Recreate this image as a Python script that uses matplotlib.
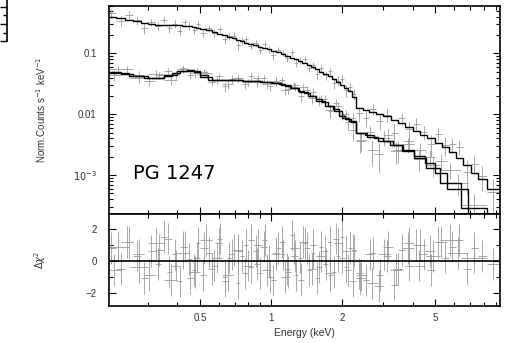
#!/usr/bin/env python3
"""Unfolded X-ray spectrum of PG 1247 with chi residuals (XSPEC-style plot)."""

import matplotlib
matplotlib.use("Agg")
import matplotlib.pyplot as plt
from matplotlib.ticker import FixedLocator, FuncFormatter, MultipleLocator, NullFormatter
import numpy as np

# --- upper spectrum (brighter instrument) -----------------------------------
up_edges = [0.20, 0.22, 0.24, 0.26, 0.28, 0.30, 0.32, 0.34, 0.36, 0.38, 0.40,
            0.42, 0.44, 0.46, 0.48, 0.50, 0.53, 0.56, 0.59, 0.62, 0.65, 0.68,
            0.71, 0.74, 0.77, 0.80, 0.84, 0.88, 0.92, 0.96, 1.00, 1.05, 1.10,
            1.15, 1.20, 1.25, 1.30, 1.36, 1.42, 1.48, 1.54, 1.60, 1.67, 1.74,
            1.81, 1.88, 1.96, 2.04, 2.12, 2.20, 2.30, 2.45, 2.62, 2.80, 3.00,
            3.22, 3.46, 3.72, 4.00, 4.30, 4.62, 4.96, 5.32, 5.70, 6.10, 6.55,
            7.05, 7.60, 8.25, 9.40]
up_model = [0.40, 0.38, 0.36, 0.335, 0.315, 0.30, 0.295, 0.293, 0.292, 0.292,
            0.29, 0.285, 0.278, 0.27, 0.262, 0.252, 0.24, 0.225, 0.21, 0.198,
            0.187, 0.178, 0.168, 0.158, 0.150, 0.142, 0.135, 0.128, 0.122, 0.117,
            0.111, 0.104, 0.097, 0.091, 0.085, 0.080, 0.074, 0.069, 0.064, 0.059,
            0.055, 0.050, 0.046, 0.042, 0.038, 0.034, 0.030, 0.027, 0.024, 0.019,
            0.0125, 0.0118, 0.0110, 0.0100, 0.0092, 0.0082, 0.0072, 0.0062, 0.0054, 0.0046,
            0.0040, 0.0034, 0.0029, 0.0024, 0.0019, 0.00145, 0.0011, 0.00085, 0.0006]
up_relerr = [0.20, 0.18, 0.17, 0.16, 0.16, 0.15, 0.15, 0.15, 0.15, 0.15,
             0.15, 0.15, 0.15, 0.15, 0.15, 0.14, 0.14, 0.14, 0.14, 0.14,
             0.14, 0.14, 0.14, 0.14, 0.14, 0.13, 0.13, 0.13, 0.13, 0.13,
             0.13, 0.13, 0.13, 0.13, 0.14, 0.14, 0.14, 0.15, 0.15, 0.15,
             0.16, 0.16, 0.17, 0.17, 0.18, 0.18, 0.19, 0.20, 0.21, 0.22,
             0.22, 0.22, 0.23, 0.24, 0.25, 0.26, 0.27, 0.28, 0.29, 0.30,
             0.32, 0.34, 0.36, 0.38, 0.40, 0.44, 0.48, 0.52, 0.55]
up_resid = [0.8, -0.5, 1.2, 0.3, -1.1, 0.6, -0.2, 1.5, -0.7, 0.4,
            -1.3, 0.9, 0.1, -0.6, 1.1, -0.9, 0.5, -0.3, 1.4, -1.0,
            0.2, 0.7, -1.4, 0.3, 1.0, -0.4, 0.6, -0.8, 1.3, 0.0,
            -1.2, 0.8, 0.4, -0.5, 1.6, -0.9, 0.2, 1.1, -0.6, 0.5,
            -1.1, 0.9, -0.2, 1.2, -0.7, 0.3, 1.5, -0.4, 0.8, 0.6,
            -0.8, -1.2, 0.5, -0.9, 0.3, -1.5, 0.7, -0.3, 1.0, 0.4,
            -0.6, 1.2, 0.2, 0.9, 1.3, -0.5, 0.8, 0.3, -0.2]

# --- lower spectra (two fainter instruments) --------------------------------
lo1_edges = [0.20, 0.23, 0.26, 0.29, 0.32, 0.35, 0.38, 0.41, 0.44, 0.47, 0.50,
             0.54, 0.58, 0.62, 0.66, 0.70, 0.75, 0.80, 0.85, 0.90, 0.96, 1.02,
             1.08, 1.15, 1.22, 1.30, 1.38, 1.46, 1.55, 1.64, 1.74, 1.84, 1.95,
             2.06, 2.18, 2.30, 2.50, 2.75, 3.00, 3.30, 3.65, 4.05, 4.50, 5.00,
             5.60, 6.90]
lo1_model = [0.049, 0.046, 0.042, 0.040, 0.040, 0.043, 0.047, 0.051, 0.053, 0.050,
             0.044, 0.037, 0.036, 0.036, 0.036, 0.036, 0.0355, 0.035, 0.0348, 0.0345,
             0.034, 0.0328, 0.031, 0.029, 0.027, 0.0245, 0.022, 0.020, 0.018, 0.0158,
             0.0138, 0.012, 0.0095, 0.0085, 0.0075, 0.0050, 0.0046, 0.0040, 0.0036, 0.0031,
             0.0026, 0.0021, 0.0016, 0.0011, 0.0006]
lo1_relerr = [0.18, 0.16, 0.15, 0.15, 0.15, 0.15, 0.14, 0.14, 0.14, 0.14,
              0.14, 0.15, 0.15, 0.15, 0.15, 0.15, 0.15, 0.15, 0.15, 0.15,
              0.15, 0.15, 0.15, 0.15, 0.16, 0.16, 0.17, 0.17, 0.18, 0.18,
              0.19, 0.20, 0.21, 0.22, 0.23, 0.26, 0.27, 0.28, 0.30, 0.32,
              0.34, 0.36, 0.40, 0.45, 0.50]
lo1_resid = [-0.6, 1.2, 0.4, -0.9, 0.7, 1.4, -0.3, 0.9, -1.1, 0.2,
             0.8, -0.5, 1.1, -1.3, 0.4, 0.6, -0.8, 1.3, -0.2, 0.9,
             -1.0, 0.5, 1.2, -0.7, 0.3, -1.2, 0.8, 1.0, -0.4, 0.6,
             -0.9, 1.4, 0.2, -0.6, 0.7, -1.1, 0.4, -1.6, 0.9, -0.5,
             1.1, -0.3, 0.6, 1.2, 0.5]

lo2_edges = [0.20, 0.25, 0.30, 0.35, 0.40, 0.45, 0.50, 0.56, 0.62, 0.69, 0.76,
             0.84, 0.92, 1.00, 1.10, 1.20, 1.31, 1.43, 1.56, 1.70, 1.85, 2.00,
             2.15, 2.30, 2.55, 2.85, 3.20, 3.60, 4.05, 4.55, 5.20, 6.40, 8.30]
lo2_model = [0.048, 0.042, 0.040, 0.044, 0.051, 0.052, 0.041, 0.036, 0.036, 0.036,
             0.0352, 0.0347, 0.034, 0.0325, 0.030, 0.0268, 0.0235, 0.020, 0.0168, 0.0138,
             0.0112, 0.0088, 0.0078, 0.0049, 0.0043, 0.0037, 0.0031, 0.0025, 0.0019, 0.0013,
             0.00075, 0.00029]
lo2_relerr = [0.16, 0.15, 0.15, 0.14, 0.14, 0.14, 0.14, 0.14, 0.14, 0.14,
              0.14, 0.14, 0.15, 0.15, 0.15, 0.16, 0.16, 0.17, 0.18, 0.19,
              0.20, 0.22, 0.23, 0.26, 0.28, 0.30, 0.32, 0.35, 0.38, 0.42,
              0.48, 0.60]
lo2_resid = [0.9, -0.4, 1.1, -1.2, 0.5, -0.7, 1.3, 0.2, -0.9, 0.7,
             -0.3, 1.0, -0.6, 0.4, -1.0, 0.8, 1.2, -0.5, 0.3, -0.8,
             1.1, 0.6, -1.3, -0.9, -1.4, 0.4, -0.6, 0.8, 1.0, 0.3,
             1.3, 0.2]

SPECTRA = [
    (up_edges, up_model, up_relerr, up_resid),
    (lo1_edges, lo1_model, lo1_relerr, lo1_resid),
    (lo2_edges, lo2_model, lo2_relerr, lo2_resid),
]

DATA_GREY = "#9a9a9a"
LABEL_GREY = "#333333"
XMIN, XMAX = 0.205, 9.4


def bins(edges):
    edges = np.asarray(edges)
    centre = np.sqrt(edges[:-1] * edges[1:])
    return edges, centre, [centre - edges[:-1], edges[1:] - centre]


def style_axes(ax):
    for side in ax.spines.values():
        side.set_linewidth(1.2)
    ax.tick_params(which="both", direction="in", top=True, right=True, width=0.8,
                   labelsize=7, pad=9, labelcolor=LABEL_GREY)
    ax.tick_params(which="major", length=5)
    ax.tick_params(which="minor", length=3)
    ax.set_xscale("log")
    ax.set_xlim(XMIN, XMAX)
    ax.xaxis.set_major_locator(FixedLocator([0.5, 1, 2, 5]))
    ax.xaxis.set_minor_locator(FixedLocator([0.3, 0.4, 0.6, 0.7, 0.8, 0.9, 3, 4, 6, 7, 8, 9]))
    ax.xaxis.set_minor_formatter(NullFormatter())


def ytick_label(v, _pos):
    if v >= 0.01:
        return f"{v:g}"
    return rf"$10^{{{int(round(np.log10(v)))}}}$"


def main():
    plt.rcParams["font.family"] = ["Liberation Sans", "DejaVu Sans"]
    fig = plt.figure(figsize=(5.12, 3.43), dpi=100)
    ax = fig.add_axes([0.2129, 0.3761, 0.7637, 0.6064])
    axr = fig.add_axes([0.2129, 0.1079, 0.7637, 0.2682], sharex=ax)

    for edges, model, relerr, resid in SPECTRA:
        edges, centre, xerr = bins(edges)
        model = np.asarray(model)
        sigma = model * np.asarray(relerr)
        rate = model + np.asarray(resid) * sigma
        ax.errorbar(centre, rate, xerr=xerr, yerr=sigma, fmt="none",
                    ecolor=DATA_GREY, elinewidth=0.6, zorder=2)
        ax.stairs(model, edges, color="black", lw=1.0, zorder=3)
        axr.errorbar(centre, resid, xerr=xerr, yerr=1.0, fmt="none",
                     ecolor=DATA_GREY, elinewidth=0.6, zorder=2)

    style_axes(ax)
    ax.set_yscale("log")
    ax.set_ylim(2.3e-4, 0.6)
    ax.yaxis.set_major_formatter(FuncFormatter(ytick_label))
    ax.yaxis.set_minor_formatter(NullFormatter())
    ax.tick_params(axis="x", labelbottom=False)
    ax.set_ylabel(r"Norm.Counts s$^{-1}$ keV$^{-1}$", fontsize=7, color=LABEL_GREY)
    ax.yaxis.set_label_coords(-0.155, 0.5)
    ax.text(0.062, 0.17, "PG 1247", transform=ax.transAxes, fontsize=14,
            family="DejaVu Sans")

    style_axes(axr)
    axr.axhline(0, color="black", lw=1.2, zorder=3)
    axr.set_ylim(-2.85, 2.95)
    axr.yaxis.set_major_locator(FixedLocator([-2, 0, 2]))
    axr.yaxis.set_minor_locator(MultipleLocator(1))
    axr.tick_params(axis="x", pad=5)
    axr.xaxis.set_major_formatter(FuncFormatter(lambda v, _p: f"{v:g}"))
    axr.set_ylabel(r"$\Delta\chi^2$", fontsize=7, color=LABEL_GREY)
    axr.yaxis.set_label_coords(-0.155, 0.5)
    axr.set_xlabel("Energy (keV)", fontsize=7.5, color=LABEL_GREY)

    # remnant of a neighbouring panel cut at the top-left corner
    stub = fig.add_axes([-0.1, 0.88, 0.1137, 0.3])
    stub.set_ylim(0, 60)
    for name in ("left", "top", "bottom"):
        stub.spines[name].set_visible(False)
    stub.spines["right"].set_linewidth(1.2)
    stub.set_xticks([])
    stub.yaxis.tick_right()
    stub.yaxis.set_major_locator(MultipleLocator(10))
    stub.yaxis.set_minor_locator(MultipleLocator(5))
    stub.tick_params(axis="y", which="both", direction="in", labelright=False, width=1.0)
    stub.tick_params(axis="y", which="major", length=5)
    stub.tick_params(axis="y", which="minor", length=3)

    fig.savefig("out.png", dpi=100)


if __name__ == "__main__":
    main()
